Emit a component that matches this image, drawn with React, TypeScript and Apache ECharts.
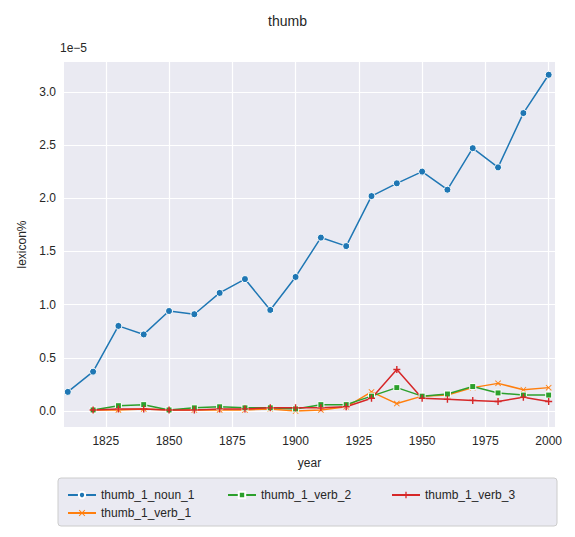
import { useEffect, useRef } from 'react';
import * as echarts from 'echarts';

const years = [1810, 1820, 1830, 1840, 1850, 1860, 1870, 1880, 1890, 1900, 1910, 1920, 1930, 1940, 1950, 1960, 1970, 1980, 1990, 2000];
const verbYears = years.slice(1);
// values in units of 1e-5
const noun1 = [0.18, 0.37, 0.8, 0.72, 0.94, 0.91, 1.11, 1.24, 0.95, 1.26, 1.63, 1.55, 2.02, 2.14, 2.25, 2.08, 2.47, 2.29, 2.8, 3.16];
const verb1 = [0.01, 0.01, 0.02, 0.01, 0.01, 0.01, 0.01, 0.02, 0.0, 0.01, 0.04, 0.18, 0.07, 0.14, 0.15, 0.22, 0.26, 0.2, 0.22];
const verb2 = [0.01, 0.05, 0.06, 0.01, 0.03, 0.04, 0.03, 0.03, 0.02, 0.06, 0.06, 0.14, 0.22, 0.14, 0.16, 0.23, 0.17, 0.15, 0.15];
const verb3 = [0.01, 0.02, 0.02, 0.01, 0.01, 0.02, 0.02, 0.03, 0.03, 0.03, 0.04, 0.12, 0.39, 0.12, 0.11, 0.1, 0.09, 0.13, 0.09];
const xTicks = [1825, 1850, 1875, 1900, 1925, 1950, 1975, 2000];
const yTicks = [0, 0.5, 1, 1.5, 2, 2.5, 3];

const FONT = 'Liberation Sans, Arial, sans-serif';
const X_SYM = 'path://M1,0L5,4L9,0L10,1L6,5L10,9L9,10L5,6L1,10L0,9L4,5L0,1Z';
const PLUS_SYM = 'path://M4,0H6V4H10V6H6V10H4V6H0V4H4Z';

function pairs(xs: number[], ys: number[]) {
  return xs.map((x, i) => [x, ys[i]]);
}

function line(name: string, xs: number[], ys: number[], color: string, symbol: string, size: number, edge: boolean) {
  return {
    name,
    type: 'line' as const,
    data: pairs(xs, ys),
    symbol,
    symbolSize: size,
    showAllSymbol: true,
    lineStyle: { color, width: 1.5 },
    itemStyle: edge ? { color, borderColor: '#fff', borderWidth: 1 } : { color },
  };
}

export default function App() {
  const ref = useRef<HTMLDivElement>(null);

  useEffect(() => {
    if (!ref.current) return;
    const chart = echarts.init(ref.current, null, { renderer: 'svg' });
    const legendText = { fontFamily: FONT, fontSize: 12, color: '#262626' };
    const leg = (name: string, left: number, top: number) => ({
      left,
      top,
      itemWidth: 28,
      itemHeight: 8,
      textStyle: legendText,
      data: [name],
    });
    chart.setOption({
      animation: false,
      backgroundColor: '#fff',
      title: {
        text: 'thumb',
        left: 'center',
        top: 1,
        textStyle: { fontFamily: FONT, fontSize: 14, fontWeight: 'normal', color: '#262626' },
      },
      grid: { left: 52, right: 12, top: 54, bottom: 102, show: true, backgroundColor: '#eaeaf2', borderWidth: 0 },
      xAxis: {
        type: 'value',
        min: 1808.5,
        max: 2002.5,
        name: 'year',
        nameLocation: 'middle',
        nameGap: 30,
        nameTextStyle: { fontFamily: FONT, fontSize: 12, color: '#262626' },
        axisLine: { show: false },
        axisTick: { show: false, customValues: xTicks },
        axisLabel: { customValues: xTicks, formatter: (v: number) => String(v), fontFamily: FONT, fontSize: 12, color: '#262626' },
        splitLine: { show: true, lineStyle: { color: '#fff', width: 1.2 } },
      },
      yAxis: {
        type: 'value',
        min: -0.15,
        max: 3.28,
        name: 'lexicon%',
        nameLocation: 'middle',
        nameGap: 36,
        nameTextStyle: { fontFamily: FONT, fontSize: 12, color: '#262626' },
        axisLine: { show: false },
        axisTick: { show: false, customValues: yTicks },
        axisLabel: {
          customValues: yTicks,
          formatter: (v: number) => v.toFixed(1),
          fontFamily: FONT,
          fontSize: 12,
          color: '#262626',
        },
        splitLine: { show: true, lineStyle: { color: '#fff', width: 1.2 } },
      },
      legend: [
        leg('thumb_1_noun_1', 54, 476),
        leg('thumb_1_verb_1', 54, 494),
        leg('thumb_1_verb_2', 214, 476),
        leg('thumb_1_verb_3', 378, 476),
      ],
      graphic: [
        {
          type: 'rect',
          shape: { x: 50, y: 470, width: 499, height: 48, r: 3 },
          style: { fill: '#eaeaf2', stroke: '#cccccc', lineWidth: 1 },
          z: -1,
        },
        {
          type: 'text',
          x: 52,
          y: 34,
          style: { text: '1e\u22125', fontFamily: FONT, fontSize: 12, fill: '#262626' },
        },
      ],
      series: [
        line('thumb_1_noun_1', years, noun1, '#1f77b4', 'circle', 7, true),
        line('thumb_1_verb_1', verbYears, verb1, '#ff7f0e', X_SYM, 6, false),
        line('thumb_1_verb_2', verbYears, verb2, '#2ca02c', 'rect', 6, true),
        line('thumb_1_verb_3', verbYears, verb3, '#d62728', PLUS_SYM, 7, false),
      ],
    });
    return () => chart.dispose();
  }, []);

  return <div ref={ref} style={{ width: 559, height: 521 }} />;
}
